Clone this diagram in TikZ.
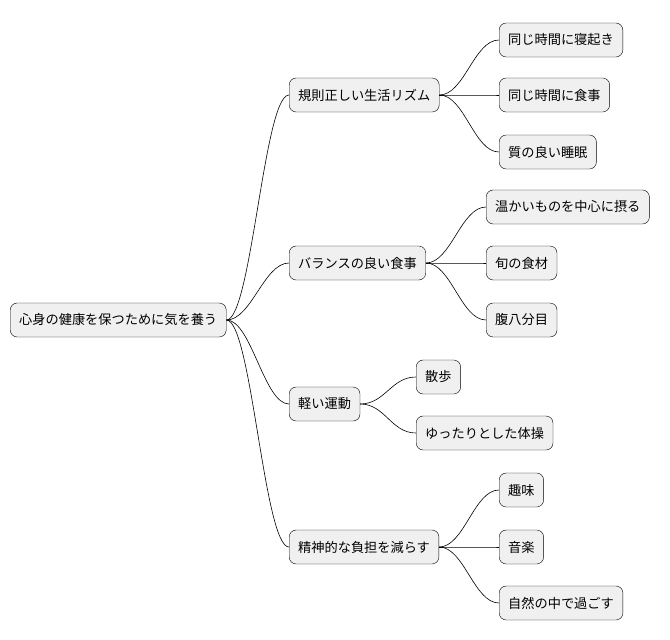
\documentclass[tikz,border=0pt]{standalone}
\usepackage{fontspec}
\newfontfamily\cjk{Noto Sans CJK JP}
\begin{document}
\begin{tikzpicture}[x=1pt,y=-1pt,
  topic/.style={draw=black,fill=black!6,rounded corners=7pt,minimum height=34pt,
    inner xsep=9pt,anchor=west,font=\cjk\fontsize{13.2}{16}\selectfont},
  link/.style={draw=black,line width=.6pt}]
\useasboundingbox (0,0) rectangle (670,640);
\node[topic] (root) at (10,320) {心身の健康を保つために気を養う};
\node[topic] (rhythm) at (289,95) {規則正しい生活リズム};
\node[topic] (diet) at (289,263) {バランスの良い食事};
\node[topic] (exercise) at (289,404) {軽い運動};
\node[topic] (stress) at (289,547) {精神的な負担を減らす};
\node[topic] (sleep) at (499,40) {同じ時間に寝起き};
\node[topic] (meal) at (499,95) {同じ時間に食事};
\node[topic] (quality) at (499,152) {質の良い睡眠};
\node[topic] (warm) at (486,207) {温かいものを中心に摂る};
\node[topic] (season) at (486,263) {旬の食材};
\node[topic] (modest) at (486,320) {腹八分目};
\node[topic] (walk) at (416,377) {散歩};
\node[topic] (gym) at (416,433) {ゆったりとした体操};
\node[topic] (hobby) at (499,490) {趣味};
\node[topic] (music) at (499,547) {音楽};
\node[topic] (nature) at (499,603) {自然の中で過ごす};
\foreach \p/\c in {root/rhythm,root/diet,root/exercise,root/stress,
  rhythm/sleep,rhythm/meal,rhythm/quality,diet/warm,diet/season,diet/modest,
  exercise/walk,exercise/gym,stress/hobby,stress/music,stress/nature}
  \draw[link] (\p.east) .. controls +(25,0) and +(-25,0) .. (\c.west);
\end{tikzpicture}
\end{document}
